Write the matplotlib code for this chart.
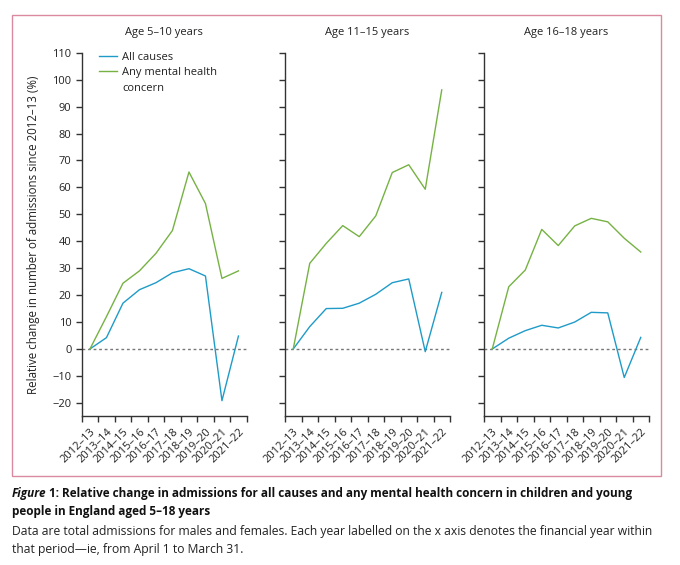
import matplotlib
matplotlib.use("Agg")
import matplotlib.pyplot as plt
from matplotlib import font_manager
from matplotlib.lines import Line2D
from matplotlib.patches import Rectangle

years = ["2012–13", "2013–14", "2014–15", "2015–16", "2016–17",
         "2017–18", "2018–19", "2019–20", "2020–21", "2021–22"]
panel_titles = ["Age 5–10 years", "Age 11–15 years", "Age 16–18 years"]

all_5_10 = [0, 4.2, 17.0, 22.0, 24.6, 28.3, 29.8, 27.1, -19.2, 4.8]
mh_5_10 = [0, 12.0, 24.4, 29.0, 35.5, 44.0, 65.7, 54.0, 26.2, 29.0]
all_11_15 = [0, 8.3, 15.0, 15.1, 17.0, 20.3, 24.6, 26.0, -1.0, 21.0]
mh_11_15 = [0, 31.8, 39.2, 45.8, 41.7, 49.4, 65.5, 68.4, 59.3, 96.2]
all_16_18 = [0, 4.0, 6.8, 8.8, 7.8, 10.0, 13.6, 13.4, -10.6, 4.3]
mh_16_18 = [0, 23.1, 29.3, 44.4, 38.4, 45.7, 48.5, 47.2, 41.1, 36.0]

y_ticks = list(range(-20, 111, 10))
series_labels = ["All causes", "Any mental health", "concern"]

available = {f.name for f in font_manager.fontManager.ttflist}
def pick(cands):
    for c in cands:
        if c in available:
            return c
    return "DejaVu Sans"

chart_font = pick(["Open Sans", "Noto Sans", "Lato", "DejaVu Sans"])
cap_font = pick(["Liberation Sans Narrow", "Open Sans", "Noto Sans", "DejaVu Sans"])
plt.rcParams["font.family"] = [chart_font, "DejaVu Sans"]

BLUE = "#1f9bc8"
GREEN = "#76b243"
TXT = "#222222"
AX = "#333333"

fig = plt.figure(figsize=(6.8, 5.65), dpi=100)
W, H = 680.0, 565.0

def fx(px):
    return px / W

def fy(py):
    return 1 - py / H

ax_top, ax_bot = 52.7, 416.3
lefts = [81.7, 285.0, 484.0]
aw = 165.0
data = [(all_5_10, mh_5_10), (all_11_15, mh_11_15), (all_16_18, mh_16_18)]
x = list(range(len(years)))

axes = []
for i, (l, (a, m), t) in enumerate(zip(lefts, data, panel_titles)):
    ax = fig.add_axes([fx(l), fy(ax_bot), aw / W, (ax_bot - ax_top) / H])
    axes.append(ax)
    ax.axhline(0, color="#777777", lw=1.0, dashes=(2, 2), zorder=1)
    ax.plot(x, a, color=BLUE, lw=1.0, zorder=3)
    ax.plot(x, m, color=GREEN, lw=1.0, zorder=3)
    ax.set_xlim(-0.5, len(years) - 0.5)
    ax.set_ylim(-25, 110)
    for s in ["top", "right"]:
        ax.spines[s].set_visible(False)
    for s in ["left", "bottom"]:
        ax.spines[s].set_color(AX)
        ax.spines[s].set_linewidth(1.0)
    ax.set_yticks(y_ticks)
    ax.tick_params(axis="y", direction="out", length=4.3, width=1.0, color=AX,
                   labelsize=8, labelcolor=TXT, pad=3)
    if i > 0:
        ax.set_yticklabels([])
    ax.set_xticks([v - 0.5 for v in range(len(years) + 1)])
    ax.set_xticklabels([])
    ax.set_xticks(x, minor=True)
    ax.set_xticklabels(years, minor=True, rotation=45, ha="right",
                       va="top", rotation_mode="anchor")
    ax.tick_params(axis="x", which="major", direction="out", length=4.3,
                   width=1.0, color=AX)
    ax.tick_params(axis="x", which="minor", length=0, labelsize=8,
                   labelcolor=TXT, pad=7)
    ax.patch.set_alpha(0)
    fig.text(fx(l + aw / 2), fy(32), t, ha="center", va="center",
             fontsize=8, color=TXT)

axes[0].set_ylabel("Relative change in number of admissions since 2012–13 (%)",
                   fontsize=8.3, color=TXT, labelpad=9)
handles = [Line2D([], [], color=BLUE, lw=1.0),
           Line2D([], [], color=GREEN, lw=1.0),
           Line2D([], [], color="none", lw=1.0)]
axes[0].legend(handles, series_labels, loc="upper left",
               bbox_to_anchor=(0.08, 1.015), frameon=False,
               fontsize=8, handlelength=1.6, handletextpad=0.45,
               labelspacing=0.42, borderaxespad=0, labelcolor=TXT)

# outer frame
fig.patches.append(Rectangle((fx(11.5), fy(476)), fx(661) - fx(11.5), fy(15) - fy(476),
                             transform=fig.transFigure, fill=False,
                             edgecolor="#d98aa0", lw=1.0))

# caption, font sizes fitted to the reference line widths
renderer = fig.canvas.get_renderer()
fam = [cap_font, "DejaVu Sans"]

def fit_size(txt, target_px, **kw):
    probe = fig.text(0, 0, txt, fontsize=10, family=fam, **kw)
    w = probe.get_window_extent(renderer=renderer).width
    probe.remove()
    return 10 * target_px / w

line1a = "Figure"
line1b = " 1: Relative change in admissions for all causes and any mental health concern in children and young"
line2 = "people in England aged 5–18 years"
line3 = "Data are total admissions for males and females. Each year labelled on the x axis denotes the financial year within"
line4 = "that period—ie, from April 1 to March 31."

sb = fit_size(line1a + line1b, 630, fontweight="bold")
sr = fit_size(line3, 642)

t1 = fig.text(fx(12), fy(493), line1a, fontstyle="italic", fontweight="bold",
              fontsize=sb, family=fam, color="#111111", va="center")
bb = t1.get_window_extent(renderer=renderer)
fig.text((bb.x1 - 0.5) / fig.bbox.width, fy(493), line1b, fontweight="bold",
         fontsize=sb, family=fam, color="#111111", va="center")
fig.text(fx(12), fy(511.5), line2, fontweight="bold",
         fontsize=sb, family=fam, color="#111111", va="center")
fig.text(fx(12), fy(531), line3, fontsize=sr, family=fam, color="#222222", va="center")
fig.text(fx(12), fy(549), line4, fontsize=sr, family=fam, color="#222222", va="center")

fig.savefig("out.png", dpi=100, facecolor="white")
